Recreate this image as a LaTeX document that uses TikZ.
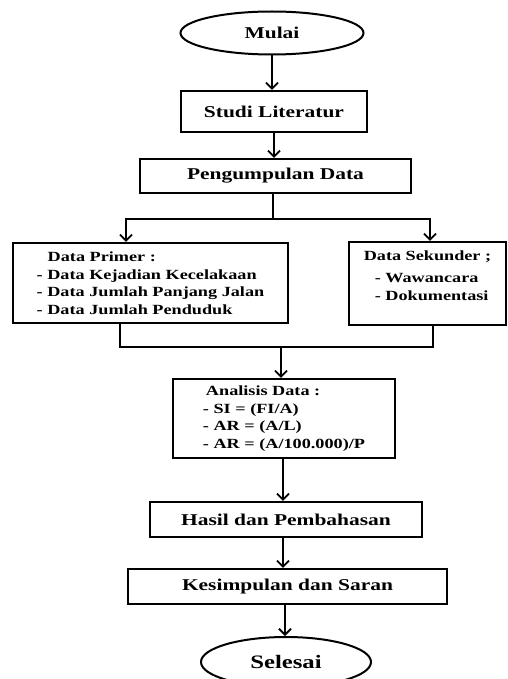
\documentclass[tikz,border=0pt]{standalone}
\usepackage{fontspec}
\setmainfont{Liberation Serif}[FakeStretch=1.3]
\usepackage{tikz}
\usetikzlibrary{shapes.geometric, arrows.meta, calc}

\begin{document}
\begin{tikzpicture}[x=1pt, y=-1pt, line width=1.8pt,
        >={Straight Barb[length=6pt,width=12pt]},
        proses/.style={draw, rectangle, line width=2.2pt, inner sep=0pt,
            font=\bfseries\fontsize{16.5}{20}\selectfont},
        daftar/.style={draw, rectangle, line width=2.2pt, inner sep=0pt, align=left,
            font=\bfseries\fontsize{14}{17.5}\selectfont},
        terminal/.style={draw, ellipse, line width=2pt, inner sep=0pt,
            font=\bfseries\fontsize{16.5}{20}\selectfont}]
        \useasboundingbox (0,0) rectangle (507,679);

        \node[terminal, minimum width=183, minimum height=43] (mulai) at (272,33) {Mulai};
        \node[proses, minimum width=186, minimum height=41] (studi) at (274,111.5) {Studi Literatur};
        \node[proses, minimum width=271, minimum height=34] (kumpul) at (275.5,176) {Pengumpulan Data};

        \node[daftar, minimum width=275, minimum height=80] (primer) at (150.5,283)
            {\hspace*{11pt}Data Primer :\\- Data Kejadian Kecelakaan\\- Data Jumlah Panjang Jalan\\- Data Jumlah Penduduk};
        \node[daftar, minimum width=157, minimum height=83] (sekunder) at (427.5,283.5)
            {Data Sekunder ;\\[5pt]\hspace*{11pt}- Wawancara\\\hspace*{11pt}- Dokumentasi\rule[-16pt]{0pt}{16pt}};

        \node[daftar, minimum width=222, minimum height=79] (analisis) at (284,418.5)
            {\hspace*{3pt}Analisis Data :\\- SI = (FI/A)\\- AR = (A/L)\\- AR = (A/100.000)/P};

        \node[proses, minimum width=272, minimum height=35] (hasil) at (286,519.5) {Hasil dan Pembahasan};
        \node[proses, minimum width=319, minimum height=35] (simpul) at (287.5,586.5) {Kesimpulan dan Saran};
        \node[terminal, minimum width=170, minimum height=50, font=\bfseries\fontsize{19}{22}\selectfont] (selesai) at (286,662) {Selesai};

        \coordinate (cabang) at (273,219);
        \coordinate (gabung) at (281,347);

        \draw[->] (mulai.south) -- (mulai.south |- studi.north);
        \draw[->] (studi.south) -- (studi.south |- kumpul.north);
        \draw (kumpul.south -| cabang) -- (cabang);
        \draw[->] (cabang) -| ([xshift=-24.5pt]primer.north);
        \draw[->] (cabang) -| ([xshift=2.5pt]sekunder.north);
        \draw ([xshift=-30.5pt]primer.south) |- (gabung);
        \draw ([xshift=5.5pt]sekunder.south) |- (gabung);
        \draw[->] (gabung) -- (gabung |- analisis.north);
        \draw[->] ([xshift=-1pt]analisis.south) -- ([xshift=-1pt]analisis.south |- hasil.north);
        \draw[->] ([xshift=-3pt]hasil.south) -- ([xshift=-3pt]hasil.south |- simpul.north);
        \draw[->] ([xshift=-2.5pt]simpul.south) -- ([xshift=-2.5pt]simpul.south |- selesai.north);
    \end{tikzpicture}
\end{document}
